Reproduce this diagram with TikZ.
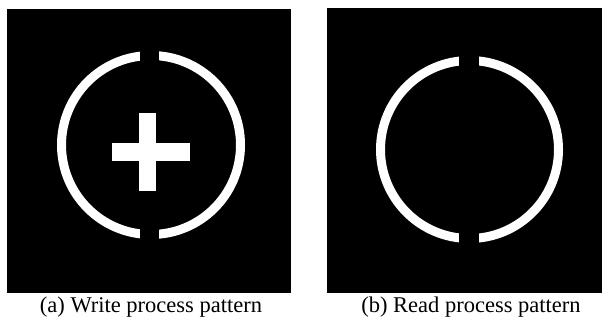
\documentclass[tikz,border=0pt]{standalone}
\usepackage{fontspec}
\setmainfont{Liberation Serif}

\begin{document}
\begin{tikzpicture}[
    x=1pt, y=-1pt,
    panel/.style={fill=black},
    ring/.style={fill=white, even odd rule},
    bar/.style={fill=white},
    caption/.style={font=\fontsize{22.5}{25}\selectfont, anchor=base, inner sep=0pt}
]
\useasboundingbox (0,0) rectangle (602,321);

% ============ (a) WRITE PATTERN ============
\fill[panel] (7,9) rectangle (291,293);
\fill[ring] (151,145) circle[radius=94pt] (151,145) circle[radius=85pt];
\fill[panel] (139.5,40) rectangle (159.3,250);
\fill[bar] (112,143.3) rectangle (190,160.7);
\fill[bar] (139.3,113.3) rectangle (156,191);
\node[caption] (capa) at (151,312) {(a) Write process pattern};

% ============ (b) READ PATTERN ============
\fill[panel] (327,8) rectangle (602,293);
\fill[ring] (469.5,149.5) circle[radius=93.5pt] (469.5,149.5) circle[radius=84.5pt];
\fill[panel] (459.3,40) rectangle (479,255);
\node[caption] (capb) at (471,312) {(b) Read process pattern};

\end{tikzpicture}
\end{document}
